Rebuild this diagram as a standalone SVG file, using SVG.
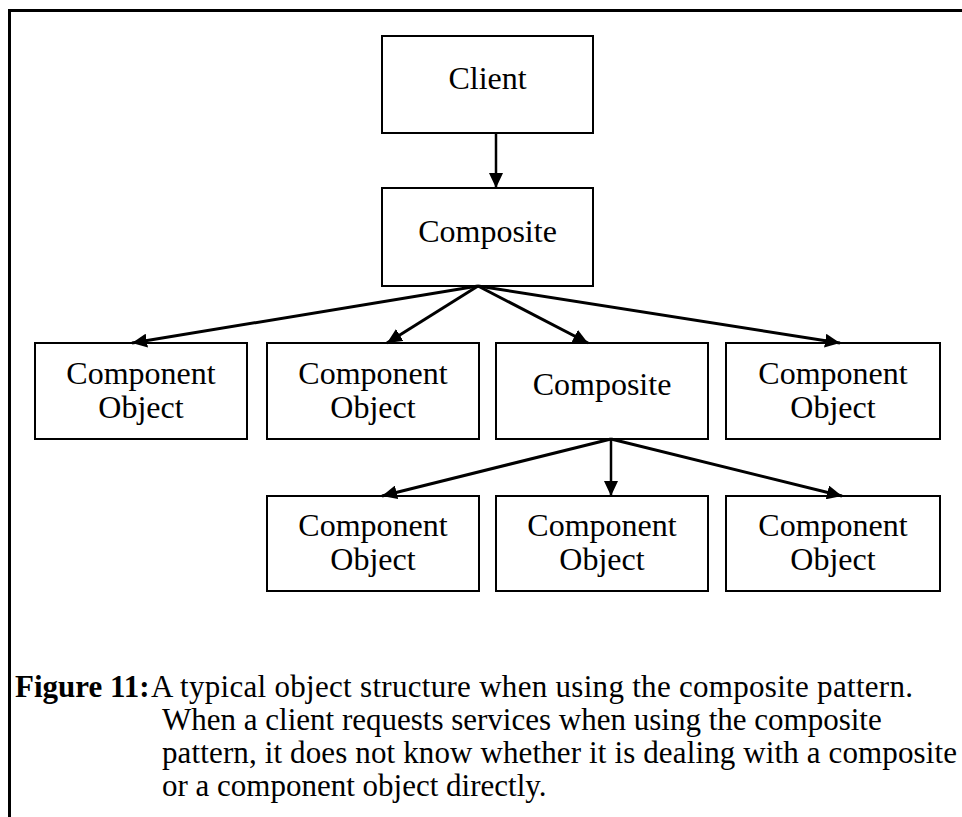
<svg xmlns="http://www.w3.org/2000/svg" width="962" height="817" viewBox="0 0 962 817">
<style>
.box{fill:#fff;stroke:#000;stroke-width:2}
.lbl{font-family:"Liberation Serif","Times New Roman",serif;font-size:32px;fill:#000;text-anchor:middle}
.cap{font-family:"Liberation Serif","Times New Roman",serif;font-size:31px;fill:#000}
.edge{stroke:#000;stroke-width:3;fill:none;marker-end:url(#ah)}
.frame{stroke:#000;stroke-width:3;fill:none}
</style>
<defs>
<marker id="ah" markerUnits="userSpaceOnUse" markerWidth="16" markerHeight="14" refX="15" refY="7" orient="auto">
<path d="M0,0 L15,7 L0,14 Z" fill="#000"/>
</marker>
</defs>
<rect width="962" height="817" fill="#fff"/>
<path class="frame" d="M9.5,817 L9.5,10.5 L962,10.5"/>

<g id="client"><rect class="box" x="382" y="36" width="211" height="97"/><text class="lbl" x="487.5" y="89">Client</text></g>
<g id="composite-top"><rect class="box" x="382" y="188" width="211" height="98"/><text class="lbl" x="487.5" y="242">Composite</text></g>

<g id="comp-a"><rect class="box" x="35" y="343" width="212" height="96"/><text class="lbl" x="141" y="384">Component</text><text class="lbl" x="141" y="418">Object</text></g>
<g id="comp-b"><rect class="box" x="267" y="343" width="212" height="96"/><text class="lbl" x="373" y="384">Component</text><text class="lbl" x="373" y="418">Object</text></g>
<g id="composite-mid"><rect class="box" x="496" y="343" width="212" height="96"/><text class="lbl" x="602" y="395">Composite</text></g>
<g id="comp-c"><rect class="box" x="726" y="343" width="214" height="96"/><text class="lbl" x="833" y="384">Component</text><text class="lbl" x="833" y="418">Object</text></g>

<g id="comp-d"><rect class="box" x="267" y="496" width="212" height="95"/><text class="lbl" x="373" y="536">Component</text><text class="lbl" x="373" y="570">Object</text></g>
<g id="comp-e"><rect class="box" x="496" y="496" width="212" height="95"/><text class="lbl" x="602" y="536">Component</text><text class="lbl" x="602" y="570">Object</text></g>
<g id="comp-f"><rect class="box" x="726" y="496" width="214" height="95"/><text class="lbl" x="833" y="536">Component</text><text class="lbl" x="833" y="570">Object</text></g>

<g id="connectors">
<line class="edge" x1="496" y1="134" x2="496" y2="188" style="stroke-width:2.5"/>
<line class="edge" x1="478" y1="286" x2="132" y2="343"/>
<line class="edge" x1="478" y1="286" x2="387" y2="343"/>
<line class="edge" x1="478" y1="286" x2="588" y2="343"/>
<line class="edge" x1="478" y1="286" x2="840" y2="343"/>
<line class="edge" x1="611" y1="439" x2="382" y2="496"/>
<line class="edge" x1="611" y1="439" x2="611" y2="496" style="stroke-width:2.5"/>
<line class="edge" x1="611" y1="439" x2="842" y2="496"/>
</g>

<g id="caption">
<text class="cap" x="15" y="697" font-weight="bold">Figure 11:</text>
<text class="cap" x="151" y="697" textLength="762" lengthAdjust="spacing">A typical object structure when using the composite pattern.</text>
<text class="cap" x="162" y="730">When a client requests services when using the composite</text>
<text class="cap" x="162" y="763" textLength="795" lengthAdjust="spacing">pattern, it does not know whether it is dealing with a composite</text>
<text class="cap" x="162" y="796">or a component object directly.</text>
</g>
</svg>
